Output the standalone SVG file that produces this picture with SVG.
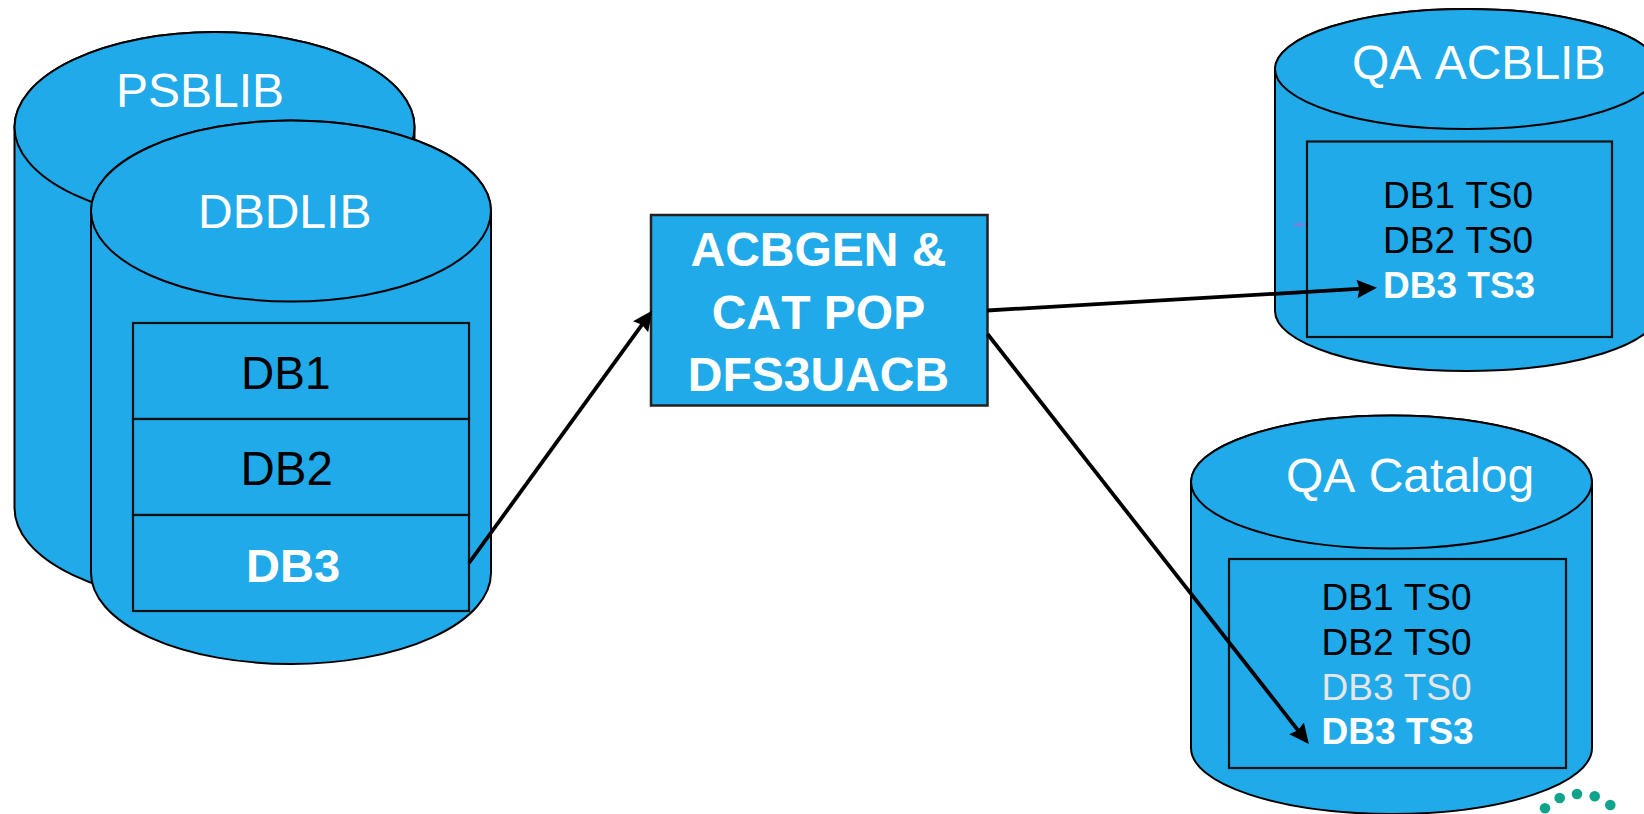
<svg xmlns="http://www.w3.org/2000/svg" width="1644" height="814" viewBox="0 0 1644 814">
<style>
.c{fill:#20aae9;stroke:#000;stroke-width:2}
.r{fill:#20aae9;stroke:#111;stroke-width:2.2}
.t{font-family:"Liberation Sans",Arial,sans-serif;font-kerning:none}
.h{font-size:48px;fill:#fff}
.m{font-size:46px;fill:#000}
.m2{font-size:47.5px;fill:#000}
.b{font-size:48px;fill:#fff;font-weight:bold}
.bm{font-size:47px;fill:#fff;font-weight:bold}
.s{font-size:37px;fill:#000}
.sb{font-size:37px;fill:#fff;font-weight:bold}
.sg{font-size:37px;fill:#e6e6e6}
.k{fill:none;stroke:#000;stroke-width:3.8}
.d{fill:#0fa38c}
</style>
<defs>
<marker id="arrow" markerUnits="userSpaceOnUse" markerWidth="20" markerHeight="20" viewBox="0 -8 16 16" refX="4" refY="0" orient="auto">
<path d="M0,-7.5 L16,0 L0,7.5 L2,0 Z" fill="#000"/>
</marker>
</defs>
<rect width="1644" height="814" fill="#fff"/>
<g id="psblib">
<path class="c" d="M14.500,127 A200,95 0 0 1 414.500,127 V508 A200,95 0 0 1 14.500,508 Z"/>
<ellipse class="c" cx="214.500" cy="127" rx="200" ry="95"/>
<text class="t h" x="116" y="107">PSBLIB</text>
</g>
<g id="dbdlib">
<path class="c" d="M91,211 A200,90.500 0 0 1 491,211 V573 A200,91 0 0 1 91,573 Z"/>
<ellipse class="c" cx="291" cy="211" rx="200" ry="90.500"/>
<text class="t h" x="198" y="228">DBDLIB</text>
</g>
<g id="db1"><rect class="r" x="133" y="323" width="336" height="96"/><text class="t m" x="241" y="388.500">DB1</text></g>
<g id="db2"><rect class="r" x="133" y="419" width="336" height="96"/><text class="t m2" x="240.500" y="485">DB2</text></g>
<g id="db3"><rect class="r" x="133" y="515" width="336" height="96"/><text class="t bm" x="246" y="581.500">DB3</text></g>
<g id="acbgen">
<rect x="651" y="215" width="336.500" height="190.500" fill="#20aae9" stroke="#222" stroke-width="2.500"/>
<text class="t b" x="818.500" y="266" text-anchor="middle">ACBGEN &amp;</text>
<text class="t b" x="818.500" y="329" text-anchor="middle">CAT POP</text>
<text class="t b" x="818.500" y="391" text-anchor="middle">DFS3UACB</text>
</g>
<g id="qa-acblib">
<path class="c" d="M1275,69 A192,60 0 0 1 1659,69 V311 A192,60 0 0 1 1275,311 Z"/>
<ellipse class="c" cx="1467" cy="69" rx="192" ry="60"/>
<text class="t h" x="1352" y="79">QA ACBLIB</text>
<rect class="r" x="1307" y="141.500" width="305" height="195.500"/>
<path d="M1294,224.700 H1305" stroke="#7b7fe0" stroke-width="3" fill="none"/>
<text class="t s" x="1383" y="208">DB1 TS0</text>
<text class="t s" x="1383" y="253">DB2 TS0</text>
<text class="t sb" x="1383" y="298">DB3 TS3</text>
</g>
<g id="qa-catalog">
<path class="c" d="M1191,482 A200.500,66.500 0 0 1 1592,482 V748 A200.500,66 0 0 1 1191,748 Z"/>
<ellipse class="c" cx="1391.500" cy="482" rx="200.500" ry="66.500"/>
<text class="t h" x="1286" y="492">QA Catalog</text>
<rect class="r" x="1229" y="559" width="337" height="209"/>
<text class="t s" x="1321.500" y="610">DB1 TS0</text>
<text class="t s" x="1321.500" y="655">DB2 TS0</text>
<text class="t sg" x="1321.500" y="700">DB3 TS0</text>
<text class="t sb" x="1321.500" y="744">DB3 TS3</text>
</g>
<g id="logo">
<circle class="d" cx="1545" cy="808.300" r="5.300"/>
<circle class="d" cx="1559.700" cy="798" r="5.300"/>
<circle class="d" cx="1577" cy="794" r="5.300"/>
<circle class="d" cx="1594.700" cy="796.300" r="5.300"/>
<circle class="d" cx="1610.300" cy="805" r="5.300"/>
</g>
<g id="connectors">
<line class="k" x1="469" y1="563" x2="643.500" y2="322.700" marker-end="url(#arrow)"/>
<line class="k" x1="987" y1="310.500" x2="1362" y2="288.700" marker-end="url(#arrow)"/>
<line class="k" x1="987.500" y1="334" x2="1299.600" y2="732.300" marker-end="url(#arrow)"/>
</g>
</svg>
